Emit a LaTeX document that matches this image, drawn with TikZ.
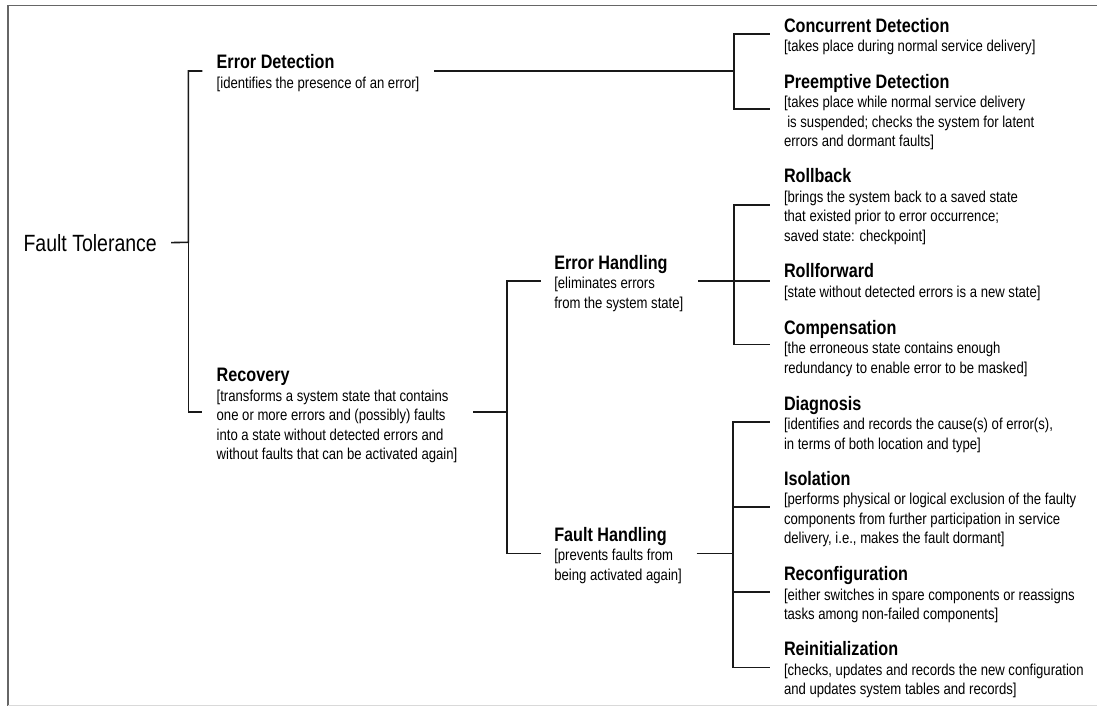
\documentclass[tikz,border=0pt]{standalone}
\usepackage{fontspec}
\setmainfont[FakeStretch=0.83]{Liberation Sans}
\newcommand{\descfont}{\fontsize{15.8}{19.5}\selectfont}
\newcommand{\ttl}[1]{\rule{0pt}{16pt}{\fontsize{19.5}{19.5}\selectfont\bfseries #1}}
\tikzset{
	blk/.style={anchor=north west, align=left, inner sep=0pt, outer sep=0pt, font=\descfont},
	tree/.style={line width=1.6pt, black!90},
}
\begin{document}
\begin{tikzpicture}[x=1pt, y=-1pt]
	\useasboundingbox (0,0) rectangle (1097,706);
	\draw[black!60, line width=1.2pt] (8,706) -- (8,5.7) -- (1097,5.7);
	\draw[black!15, line width=1pt] (8,705) -- (1097,705);

	\node[anchor=base west, inner sep=0pt, font=\fontsize{23.5}{28}\selectfont] (ft) at (23.3,251) {Fault Tolerance};
	\node[blk] (ed) at (216.7,53) {\ttl{Error Detection}\\{}[identifies the presence of an error]};
	\node[blk] (rec) at (216.7,365.7) {\ttl{Recovery}\\{}[transforms a system state that contains\\one or more errors and (possibly) faults\\into a state without detected errors and\\without faults that can be activated again]};
	\node[blk] (eh) at (554.3,253) {\ttl{Error Handling}\\{}[eliminates errors\\from the system state]};
	\node[blk] (fh) at (554.3,525) {\ttl{Fault Handling}\\{}[prevents faults from\\being activated again]};
	\node[blk] (cd) at (784,16.5) {\ttl{Concurrent Detection}\\{}[takes place during normal service delivery]};
	\node[blk] (pd) at (784,72.3) {\ttl{Preemptive Detection}\\{}[takes place while normal service delivery\\\hspace*{3.3pt}is suspended; checks the system for latent\\errors and dormant faults]};
	\node[blk] (rb) at (784,166.7) {\ttl{Rollback}\\{}[brings the system back to a saved state\\that existed prior to error occurrence;\\saved state: checkpoint]};
	\node[blk] (rf) at (784,261.7) {\ttl{Rollforward}\\{}[state without detected errors is a new state]};
	\node[blk] (cp) at (784,318.3) {\ttl{Compensation}\\{}[the erroneous state contains enough\\redundancy to enable error to be masked]};
	\node[blk] (dg) at (784,394) {\ttl{Diagnosis}\\{}[identifies and records the cause(s) of error(s),\\in terms of both location and type]};
	\node[blk] (is) at (784,469) {\ttl{Isolation}\\{}[performs physical or logical exclusion of the faulty\\components from further participation in service\\delivery, i.e., makes the fault dormant]};
	\node[blk] (rc) at (784,564.7) {\ttl{Reconfiguration}\\{}[either switches in spare components or reassigns\\tasks among non-failed components]};
	\node[blk] (ri) at (784,639.7) {\ttl{Reinitialization}\\{}[checks, updates and records the new configuration\\and updates system tables and records]};

	\coordinate (ft-out) at ([xshift=14pt]ft.east);
	\coordinate (j-ft) at (188.3,242.3);
	\coordinate (ed-in) at (202.3,71);
	\coordinate (rec-in) at (202.3,411.7);
	\coordinate (ed-out) at (434,71);
	\coordinate (j-ed) at (734,71);
	\coordinate (cd-in) at (770,34);
	\coordinate (pd-in) at (770,109.3);
	\coordinate (rec-out) at (473.3,411.7);
	\coordinate (j-rec) at (506.7,411.7);
	\coordinate (eh-in) at (540.7,280.7);
	\coordinate (fh-in) at (540.7,553.3);
	\coordinate (eh-out) at (698.3,280.7);
	\coordinate (j-eh) at (734,280.7);
	\coordinate (rb-in) at (770,205);
	\coordinate (rf-in) at (770,280.7);
	\coordinate (cp-in) at (770,344.3);
	\coordinate (fh-out) at (696.7,553.3);
	\coordinate (j-fh) at (733,553.3);
	\coordinate (dg-in) at (770,421.7);
	\coordinate (is-in) at (770,506.7);
	\coordinate (rc-in) at (770,591.7);
	\coordinate (ri-in) at (770,667.3);

	\draw[tree] (ft-out) -- (j-ft) |- (ed-in);
	\draw[tree] (j-ft) |- (rec-in);
	\draw[tree] (ed-out) -- (j-ed) |- (cd-in);
	\draw[tree] (j-ed) |- (pd-in);
	\draw[tree] (rec-out) -- (j-rec) |- (eh-in);
	\draw[tree] (j-rec) |- (fh-in);
	\draw[tree] (eh-out) -- (j-eh) |- (rb-in);
	\draw[tree] (j-eh) -- (rf-in);
	\draw[tree] (j-eh) |- (cp-in);
	\draw[tree] (fh-out) -- (j-fh) |- (dg-in);
	\draw[tree] (j-fh) |- (is-in);
	\draw[tree] (j-fh) |- (rc-in);
	\draw[tree] (j-fh) |- (ri-in);
\end{tikzpicture}
\end{document}
